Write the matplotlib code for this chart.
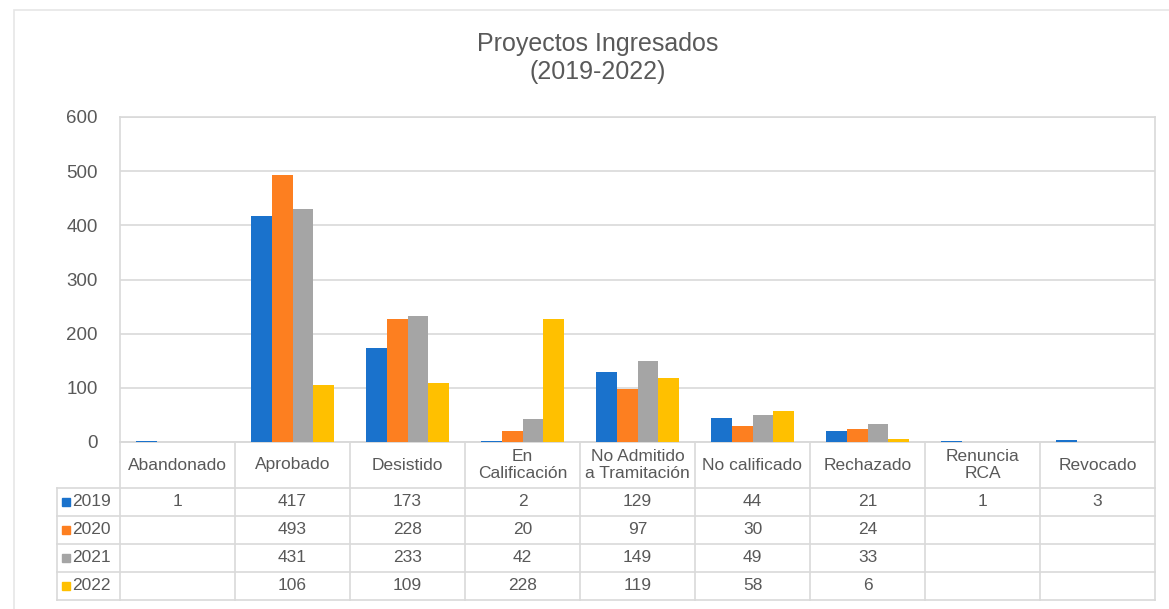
import numpy as np
import matplotlib.pyplot as plt
from matplotlib.patches import Rectangle

plt.rcParams['font.family'] = ['Liberation Sans', 'DejaVu Sans']

# Data
categories = ["Abandonado", "Aprobado", "Desistido", "En\nCalificación",
              "No Admitido\na Tramitación", "No calificado", "Rechazado",
              "Renuncia\nRCA", "Revocado"]
years = ["2019", "2020", "2021", "2022"]
v2019 = [1, 417, 173, 2, 129, 44, 21, 1, 3]
v2020 = [None, 493, 228, 20, 97, 30, 24, None, None]
v2021 = [None, 431, 233, 42, 149, 49, 33, None, None]
v2022 = [None, 106, 109, 228, 119, 58, 6, None, None]
series = [v2019, v2020, v2021, v2022]
colors = ["#1a72cc", "#fd7f20", "#a5a5a5", "#ffc000"]

TEXT = "#595959"
LINE = "#d9d9d9"

W, H = 1169, 609
fig = plt.figure(figsize=(W / 100, H / 100), dpi=100)
ax = fig.add_axes([120 / W, 1 - 442 / H, 1035 / W, 325 / H])

n = len(categories)
x = np.arange(n)
bw = 1 / 5.5
for k, (vals, c) in enumerate(zip(series, colors)):
    v = np.array([np.nan if a is None else a for a in vals], dtype=float)
    ax.bar(x + (k - 1.5) * bw, v, width=bw, color=c, zorder=3)

ax.set_xlim(-0.5, n - 0.5)
ax.set_ylim(0, 600)
ax.set_yticks(range(0, 601, 100))
ax.set_xticks([])
ax.tick_params(axis='y', length=0, pad=16, labelsize=13.5, labelcolor=TEXT)
ax.grid(axis='y', color=LINE, lw=1.2, zorder=0)
for s in ax.spines.values():
    s.set_color(LINE)
    s.set_linewidth(1.2)

# data table under the plot, in axes-fraction units
ph = 325.0
head_h = 46 / ph
row_h = 28 / ph
leg_left = (57 - 120) / 1035
tr = ax.transAxes
lk = dict(transform=tr, color=LINE, lw=1.2, clip_on=False)

y_head = -head_h
y_bottom = y_head - len(years) * row_h
# horizontal lines
ax.plot([0, 1], [0, 0], **lk)
for r in range(len(years) + 1):
    yy = y_head - r * row_h
    ax.plot([leg_left, 1], [yy, yy], **lk)
# vertical lines
for i in range(n + 1):
    ax.plot([i / n, i / n], [0, y_bottom], **lk)
ax.plot([leg_left, leg_left], [y_head, y_bottom], **lk)

# header text
for i, cat in enumerate(categories):
    ax.text((i + 0.5) / n, -head_h / 2, cat, transform=tr, ha='center',
            va='center', fontsize=12.5, color=TEXT, linespacing=1.15)

# rows
for r, (yr, vals, c) in enumerate(zip(years, series, colors)):
    yc = y_head - (r + 0.5) * row_h
    ax.plot([leg_left + 0.009], [yc], marker='s', ms=6, color=c,
            transform=tr, clip_on=False)
    ax.text(leg_left + 0.015, yc, yr, transform=tr, ha='left', va='center',
            fontsize=12.5, color=TEXT)
    for i, v in enumerate(vals):
        if v is not None:
            ax.text((i + 0.5) / n, yc, str(v), transform=tr, ha='center',
                    va='center', fontsize=12.5, color=TEXT)

fig.text(598 / W, 1 - 58 / H, "Proyectos Ingresados\n(2019-2022)",
         ha='center', va='center', fontsize=18, color=TEXT, linespacing=1.2)

# chart area border
fig.patches.append(Rectangle((14 / W, -0.1), 1.2, 1 - 10 / H + 0.1,
                             transform=fig.transFigure, fill=False,
                             edgecolor="#e6e6e6", lw=1.2))

fig.savefig("out.png", dpi=100)
